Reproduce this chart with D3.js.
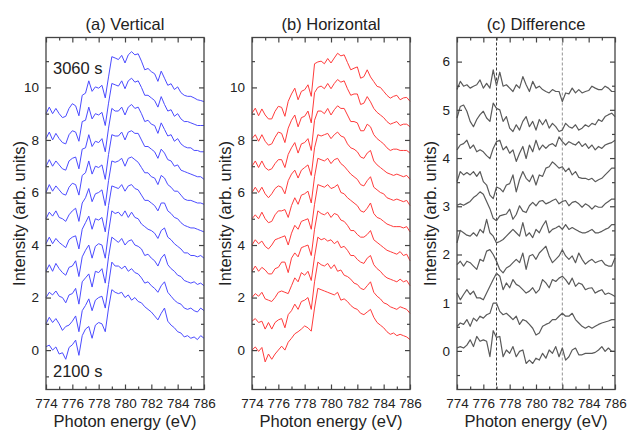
<!DOCTYPE html>
<html><head><meta charset="utf-8">
<script src="https://cdn.jsdelivr.net/npm/d3@7"></script>
<style>body{margin:0;background:#fff}svg{display:block;font-family:"Liberation Sans",Arial,sans-serif}</style>
</head><body><svg id="chart" width="629" height="432"></svg>
<script>
const energy = [774,774.25,774.5,774.75,775,775.25,775.5,775.75,776,776.25,776.5,776.75,777,777.25,777.5,777.75,778,778.25,778.5,778.75,779,779.25,779.5,779.75,780,780.25,780.5,780.75,781,781.25,781.5,781.75,782,782.25,782.5,782.75,783,783.25,783.5,783.75,784,784.25,784.5,784.75,785,785.25,785.5,785.75,786];
const stackOffsets = [0,1,2,3,4,5,6,7,8,9];
const timeLabels = ["3060 s","2100 s"];
const titles = ["(a) Vertical","(b) Horizontal","(c) Difference"];
const xTicks = [774,776,778,780,782,784,786];
const xMinor = [775,777,779,781,783,785];
const yTicksAB = [0,2,4,6,8,10];
const yMinorAB = [-1,1,3,5,7,9,11];
const yTicksC = [0,1,2,3,4,5,6];
const yMinorC = [-0.5,0.5,1.5,2.5,3.5,4.5,5.5];
const markerEnergies = [777,782];

const vertical = [
[0.13,0.19,0.0,0.12,-0.15,-0.1,-0.35,0.1,0.2,0.38,-0.2,0.55,0.8,0.9,0.45,0.95,1.05,1.0,0.7,1.6,2.3,2.2,2.15,2.2,2.0,2.1,1.9,2.0,1.85,1.8,1.65,1.55,1.45,1.3,1.15,1.4,1.6,1.1,0.95,0.85,0.7,0.65,0.5,0.55,0.45,0.5,0.4,0.55,0.45],
[0.0,0.25,0.05,0.2,0.0,-0.25,-0.1,-0.05,0.1,0.3,-0.3,0.5,0.7,0.95,0.5,0.9,1.0,1.05,0.6,1.5,2.35,2.2,2.2,2.1,2.2,2.0,2.1,1.95,1.9,1.75,1.55,1.6,1.45,1.35,1.2,1.45,1.6,1.2,1.05,0.9,0.8,0.75,0.6,0.55,0.6,0.5,0.45,0.6,0.5],
[0.0,0.2,0.1,0.25,0.05,0.0,-0.2,0.1,0.15,0.35,-0.25,0.6,0.75,0.9,0.4,1.0,0.95,1.1,0.55,1.55,2.3,2.2,2.1,2.25,2.0,2.15,2.2,2.0,1.95,1.85,1.6,1.65,1.5,1.4,1.2,1.5,1.65,1.25,1.1,1.0,0.85,0.8,0.65,0.6,0.55,0.6,0.5,0.55,0.45],
[0.0,0.25,0.0,0.3,0.1,-0.05,-0.15,0.15,0.2,0.4,-0.2,0.55,0.8,1.0,0.5,0.95,1.05,1.0,0.5,1.5,2.3,2.2,2.25,2.1,2.3,2.05,2.25,2.05,2.0,1.8,1.7,1.6,1.55,1.45,1.25,1.55,1.65,1.3,1.2,1.05,0.95,0.85,0.7,0.7,0.6,0.6,0.55,0.6,0.5],
[0.05,0.3,0.05,0.25,0.1,0.0,-0.1,0.2,0.3,0.35,-0.15,0.6,0.85,1.1,0.6,1.0,0.95,1.05,0.5,1.5,2.25,2.2,2.15,2.3,2.05,2.25,2.3,2.15,2.1,1.9,1.7,1.7,1.6,1.5,1.3,1.6,1.6,1.3,1.2,1.05,1.0,0.85,0.75,0.7,0.65,0.65,0.6,0.55,0.5],
[0.0,0.25,0.1,0.3,0.05,0.0,-0.1,0.15,0.3,0.4,-0.1,0.6,0.8,1.15,0.65,0.95,1.0,1.1,0.5,1.45,2.2,2.15,2.2,2.3,2.0,2.3,2.35,2.25,2.15,1.95,1.75,1.75,1.6,1.55,1.3,1.65,1.55,1.3,1.2,1.05,1.05,0.9,0.75,0.7,0.7,0.65,0.6,0.6,0.55],
[0.0,0.3,0.05,0.25,0.1,-0.05,-0.1,0.2,0.35,0.3,-0.1,0.65,0.75,1.2,0.7,1.0,0.95,1.05,0.5,1.45,2.2,2.15,2.15,2.3,2.0,2.3,2.35,2.25,2.25,2.0,1.75,1.75,1.65,1.55,1.3,1.65,1.5,1.25,1.2,1.0,1.05,0.85,0.8,0.75,0.7,0.65,0.6,0.6,0.5],
[0.0,0.25,0.0,0.2,0.05,-0.1,-0.15,0.2,0.3,0.35,-0.1,0.65,0.7,1.2,0.75,0.95,0.9,1.05,0.55,1.45,2.2,2.1,2.1,2.25,1.95,2.25,2.35,2.2,2.25,2.0,1.7,1.75,1.6,1.55,1.25,1.65,1.4,1.15,1.2,0.95,1.05,0.85,0.75,0.7,0.7,0.6,0.6,0.55,0.55],
[0.05,0.3,0.0,0.25,0.05,-0.1,-0.15,0.2,0.35,0.3,-0.05,0.7,0.75,1.25,0.8,1.0,0.95,1.05,0.55,1.4,2.15,2.1,2.05,2.25,1.95,2.25,2.35,2.2,2.25,2.0,1.7,1.7,1.6,1.5,1.25,1.65,1.35,1.1,1.15,0.9,1.0,0.8,0.7,0.7,0.65,0.6,0.55,0.55,0.55],
[0.0,0.25,0.0,0.2,0.0,-0.15,-0.1,0.2,0.38,0.3,-0.08,0.7,0.78,1.25,0.85,1.02,0.97,1.08,0.6,1.4,2.17,2.12,2.06,2.22,1.93,2.24,2.36,2.24,2.28,2.0,1.67,1.72,1.6,1.52,1.23,1.62,1.35,1.08,1.14,0.92,1.02,0.8,0.7,0.66,0.66,0.6,0.53,0.5,0.46]
];

const horizontal = [
[0.0,0.12,-0.05,0.1,-0.45,-0.15,-0.35,-0.15,0.0,0.15,0.0,0.3,0.45,0.62,0.7,0.8,0.92,0.85,0.72,1.6,2.35,2.3,2.25,2.2,2.15,2.1,2.2,1.9,1.95,1.85,1.7,1.6,1.55,1.4,1.35,1.45,1.55,1.25,1.05,0.95,0.85,0.7,0.6,0.65,0.55,0.6,0.55,0.5,0.4],
[0.1,0.2,0.05,0.1,-0.2,0.05,-0.2,0.05,0.15,0.2,-0.15,0.35,0.5,0.75,0.55,0.85,0.9,1.0,0.55,1.6,2.35,2.25,2.2,2.3,2.1,2.25,2.0,2.05,1.85,1.8,1.7,1.55,1.5,1.35,1.3,1.45,1.6,1.2,1.05,0.95,0.8,0.75,0.65,0.6,0.55,0.65,0.6,0.55,0.4],
[0.0,0.15,0.05,0.2,-0.05,-0.1,-0.15,0.0,0.2,0.25,0.2,0.15,0.45,0.75,0.6,0.95,0.85,1.0,0.65,1.55,2.3,2.2,2.25,2.15,2.2,2.05,2.15,1.9,1.95,1.8,1.6,1.6,1.45,1.35,1.3,1.5,1.6,1.25,1.1,1.0,0.85,0.75,0.7,0.65,0.6,0.7,0.6,0.65,0.45],
[0.0,0.2,0.0,0.15,0.05,-0.1,-0.1,0.1,0.15,0.35,0.35,-0.05,0.5,0.7,0.55,0.9,0.95,1.0,0.6,1.6,2.3,2.2,2.15,2.25,2.05,2.2,2.15,1.95,1.9,1.75,1.55,1.55,1.4,1.3,1.3,1.4,1.55,1.2,1.1,1.0,0.9,0.8,0.75,0.7,0.65,0.75,0.6,0.65,0.4],
[0.0,0.2,0.05,0.15,-0.05,-0.15,0.0,0.2,0.25,0.3,0.35,0.0,0.45,0.75,0.6,0.9,0.95,1.0,0.6,1.55,2.3,2.25,2.2,2.3,2.15,2.2,2.3,2.0,1.95,1.8,1.7,1.6,1.5,1.3,1.25,1.4,1.6,1.2,1.05,1.0,0.9,0.8,0.75,0.7,0.7,0.7,0.65,0.7,0.5],
[0.0,0.15,0.0,0.25,0.0,-0.15,-0.1,0.15,0.3,0.3,0.35,0.05,0.5,0.8,0.55,0.9,0.95,1.05,0.6,1.6,2.3,2.25,2.2,2.3,2.1,2.25,2.3,2.1,2.0,1.85,1.7,1.6,1.5,1.3,1.25,1.45,1.6,1.2,1.1,1.0,0.95,0.8,0.75,0.7,0.75,0.7,0.65,0.7,0.5],
[0.0,0.2,0.0,0.2,-0.05,-0.2,-0.05,0.15,0.25,0.2,-0.05,0.45,0.7,0.85,0.55,0.85,0.95,1.05,0.65,1.7,2.2,2.15,2.2,2.25,2.05,2.2,2.3,2.15,2.1,1.85,1.7,1.65,1.55,1.35,1.3,1.5,1.6,1.2,1.05,0.95,0.85,0.75,0.7,0.65,0.7,0.65,0.6,0.65,0.5],
[0.0,0.2,-0.05,0.2,-0.05,-0.15,-0.1,0.1,0.25,0.25,-0.05,0.45,0.7,0.9,0.5,0.85,0.9,1.05,0.6,1.75,2.1,2.1,2.0,2.2,1.95,2.15,2.3,2.2,2.2,1.95,1.7,1.7,1.65,1.35,1.35,1.6,1.5,1.2,1.05,0.95,0.85,0.7,0.6,0.65,0.65,0.6,0.6,0.6,0.5],
[0.05,0.2,-0.05,0.2,-0.05,-0.2,-0.15,0.1,0.3,0.25,-0.1,0.45,0.75,0.95,0.5,0.85,0.9,1.1,0.65,1.8,2.0,2.05,1.95,2.15,1.95,2.15,2.3,2.2,2.25,1.95,1.7,1.75,1.75,1.35,1.4,1.65,1.45,1.2,1.05,0.95,0.85,0.7,0.6,0.65,0.7,0.55,0.6,0.6,0.5],
[0.02,0.21,-0.08,0.18,-0.05,-0.2,-0.2,0.09,0.28,0.24,-0.1,0.47,0.75,0.97,0.53,0.85,0.91,1.1,0.66,1.9,1.97,2.0,1.9,2.1,1.93,2.12,2.3,2.2,2.24,1.95,1.67,1.73,1.78,1.35,1.41,1.67,1.4,1.22,1.04,1.0,0.85,0.7,0.59,0.66,0.7,0.53,0.6,0.62,0.47]
];

// difference curves, as plotted (stacked values)
const difference = [
[0.06,0.09,0.06,0.12,0.23,0.09,0.30,0.20,0.23,0.20,-0.12,0.42,0.28,0.30,-0.12,0.02,-0.05,0.09,-0.12,-0.01,0.02,-0.26,-0.19,-0.26,-0.15,-0.19,-0.05,-0.15,0.02,-0.05,0.09,-0.12,0.06,-0.19,-0.12,0.02,0.06,-0.08,-0.08,-0.05,-0.05,-0.05,-0.03,0.02,0.09,-0.01,0.06,-0.01,-0.01],
[0.51,0.58,0.55,0.65,0.51,0.68,0.62,0.72,0.68,0.75,0.78,0.99,0.99,0.82,0.75,0.78,0.72,0.65,0.72,0.55,0.65,0.62,0.55,0.47,0.33,0.37,0.51,0.55,0.58,0.65,0.65,0.72,0.78,0.72,0.72,0.78,0.65,0.58,0.51,0.47,0.51,0.47,0.51,0.55,0.58,0.60,0.62,0.65,0.65],
[1.20,1.06,1.17,1.27,1.17,1.24,1.10,1.10,1.06,1.20,1.34,1.48,1.61,1.55,1.27,1.41,1.31,1.48,1.38,1.34,1.27,1.20,1.24,1.31,1.20,1.27,1.48,1.41,1.31,1.48,1.44,1.51,1.55,1.48,1.38,1.51,1.34,1.41,1.38,1.27,1.30,1.31,1.20,1.24,1.27,1.17,1.20,1.17,1.13],
[1.79,1.86,1.76,1.86,1.83,1.76,1.69,1.90,1.86,2.07,2.10,2.00,1.86,1.69,1.62,1.72,1.76,1.83,1.90,1.83,2.03,1.69,1.97,2.00,1.90,2.03,2.10,2.17,1.97,1.83,1.90,1.97,2.10,1.97,1.90,1.97,1.83,2.03,1.90,1.80,1.86,1.90,1.83,1.86,1.88,1.79,1.76,1.76,1.93],
[2.24,2.50,2.45,2.40,2.38,2.45,2.38,2.52,2.45,2.73,2.45,2.38,2.24,2.27,2.31,2.38,2.45,2.52,2.45,2.38,2.66,2.38,2.45,2.35,2.52,2.45,2.59,2.70,2.45,2.52,2.55,2.59,2.52,2.62,2.52,2.56,2.52,2.48,2.45,2.45,2.48,2.52,2.45,2.45,2.48,2.52,2.55,2.62,2.62],
[3.02,3.05,3.02,3.06,3.10,3.18,3.23,3.30,3.25,3.10,2.95,2.75,2.70,2.80,2.82,2.84,2.94,2.73,2.83,3.01,2.90,2.87,3.01,3.08,3.01,3.10,3.12,3.05,3.08,3.12,3.15,3.05,3.10,3.12,3.01,3.08,3.10,3.05,2.98,3.05,3.01,2.94,3.01,2.98,2.98,3.05,3.10,3.15,3.15],
[3.51,3.72,3.65,3.70,3.65,3.72,3.62,3.72,3.51,3.44,3.23,3.16,3.40,3.37,3.30,3.44,3.47,3.65,3.30,3.55,3.72,3.58,3.51,3.65,3.44,3.65,3.62,3.79,3.82,3.92,3.86,3.79,3.82,3.72,3.79,3.65,3.72,3.60,3.58,3.58,3.55,3.58,3.51,3.55,3.58,3.65,3.72,3.79,3.79],
[4.17,4.27,4.30,4.37,4.20,4.27,4.13,4.17,4.13,4.05,3.99,4.20,4.34,4.37,4.17,4.24,4.10,4.17,3.93,4.10,4.24,3.99,4.27,4.13,4.37,4.17,4.27,4.20,4.27,4.30,4.24,4.44,4.34,4.27,4.34,4.30,4.27,4.34,4.24,4.30,4.20,4.27,4.17,4.24,4.20,4.27,4.30,4.32,4.37],
[4.83,5.07,5.10,4.97,4.76,4.65,4.80,4.90,4.97,4.83,4.76,5.14,5.03,5.00,4.76,4.86,4.62,4.55,4.69,4.58,4.76,4.86,4.65,4.76,4.58,4.80,4.69,4.80,4.62,4.72,4.65,4.55,4.58,4.72,4.65,4.62,4.69,4.58,4.62,4.69,4.65,4.72,4.69,4.80,4.76,4.86,4.90,4.93,4.86],
[5.42,5.59,5.49,5.52,5.45,5.49,5.52,5.62,5.45,5.55,5.45,5.83,5.50,5.78,5.49,5.52,5.45,5.38,5.52,5.45,5.69,5.52,5.38,5.59,5.45,5.49,5.42,5.38,5.35,5.42,5.38,5.38,5.17,5.35,5.33,5.45,5.35,5.42,5.35,5.38,5.40,5.49,5.45,5.42,5.42,5.49,5.45,5.38,5.38]
];

const svg = d3.select("#chart");
const plotTop = 37.5, plotBottom = 389.5;

const panels = [
  {title: titles[0], x0: 46, x1: 204, ydom: [-1.5, 11.9], yt: yTicksAB, ym: yMinorAB, series: vertical, offs: stackOffsets, color: "#4b4bff", sw: 1},
  {title: titles[1], x0: 252, x1: 410, ydom: [-1.5, 11.9], yt: yTicksAB, ym: yMinorAB, series: horizontal, offs: stackOffsets, color: "#ff3b3b", sw: 1},
  {title: titles[2], x0: 457, x1: 615, ydom: [-0.8, 6.5], yt: yTicksC, ym: yMinorC, series: difference, offs: null, color: "#5a5a5a", sw: 1.2, markers: markerEnergies}
];

panels.forEach((p, pi) => {
  const x = d3.scaleLinear().domain([774, 786]).range([p.x0, p.x1]);
  const y = d3.scaleLinear().domain(p.ydom).range([plotBottom, plotTop]);
  const g = svg.append("g");

  if (p.markers) {
    g.selectAll("line.mk").data(p.markers).join("line")
      .attr("x1", d => x(d)).attr("x2", d => x(d))
      .attr("y1", plotTop).attr("y2", plotBottom)
      .attr("stroke", (d, i) => i === 0 ? "#222" : "#888")
      .attr("stroke-width", 0.9)
      .attr("stroke-dasharray", "3,2");
  }

  const line = d3.line().x((d, i) => x(energy[i])).y(d => y(d));
  p.series.forEach((s, si) => {
    const off = p.offs ? p.offs[si] : 0;
    g.append("path")
      .attr("d", line(s.map(v => v + off)))
      .attr("fill", "none")
      .attr("stroke", p.color)
      .attr("stroke-width", p.sw)
      .attr("stroke-linejoin", "round");
  });

  const axColor = "#444";
  function styleAxis(sel) {
    sel.select(".domain").remove();
    sel.selectAll("line").attr("stroke", axColor).attr("stroke-width", 1.2);
    sel.selectAll("text").attr("fill", "#222").style("font-size", "13.5px").style("font-family", '"Liberation Sans", Arial, sans-serif');
  }
  g.append("g").attr("transform", `translate(0,${plotBottom})`)
    .call(d3.axisBottom(x).tickValues(xTicks).tickSize(-5).tickPadding(9).tickFormat(d3.format("d"))).call(styleAxis);
  g.append("g").attr("transform", `translate(0,${plotBottom})`)
    .call(d3.axisBottom(x).tickValues(xMinor).tickSize(-3).tickFormat("")).call(styleAxis);
  g.append("g").attr("transform", `translate(0,${plotTop})`)
    .call(d3.axisTop(x).tickValues(xTicks).tickSize(-5).tickFormat("")).call(styleAxis);
  g.append("g").attr("transform", `translate(0,${plotTop})`)
    .call(d3.axisTop(x).tickValues(xMinor).tickSize(-3).tickFormat("")).call(styleAxis);
  g.append("g").attr("transform", `translate(${p.x0},0)`)
    .call(d3.axisLeft(y).tickValues(p.yt).tickSize(-5).tickPadding(7).tickFormat(d3.format("d"))).call(styleAxis);
  g.append("g").attr("transform", `translate(${p.x0},0)`)
    .call(d3.axisLeft(y).tickValues(p.ym).tickSize(-3).tickFormat("")).call(styleAxis);
  g.append("g").attr("transform", `translate(${p.x1},0)`)
    .call(d3.axisRight(y).tickValues(p.yt).tickSize(-5).tickFormat("")).call(styleAxis);
  g.append("g").attr("transform", `translate(${p.x1},0)`)
    .call(d3.axisRight(y).tickValues(p.ym).tickSize(-3).tickFormat("")).call(styleAxis);

  g.append("rect").attr("x", p.x0).attr("y", plotTop)
    .attr("width", p.x1 - p.x0).attr("height", plotBottom - plotTop)
    .attr("fill", "none").attr("stroke", axColor).attr("stroke-width", 1.3);

  g.append("text").attr("x", (p.x0 + p.x1) / 2).attr("y", 29.5)
    .attr("text-anchor", "middle").style("font-size", "16.5px").attr("fill", "#222").text(p.title);
  g.append("text").attr("x", (p.x0 + p.x1) / 2).attr("y", 427)
    .attr("text-anchor", "middle").style("font-size", "16.5px").attr("fill", "#222").text("Photon energy (eV)");
  g.append("text").attr("transform", `translate(${p.x0 - 21},${(plotTop + plotBottom) / 2}) rotate(-90)`)
    .attr("text-anchor", "middle").style("font-size", "16.5px").attr("fill", "#222").text("Intensity (arb. units)");

  if (pi === 0) {
    g.append("text").attr("x", 53).attr("y", 74).style("font-size", "16.5px").attr("fill", "#222").text(timeLabels[0]);
    g.append("text").attr("x", 53).attr("y", 377).style("font-size", "16.5px").attr("fill", "#222").text(timeLabels[1]);
  }
});
</script></body></html>
